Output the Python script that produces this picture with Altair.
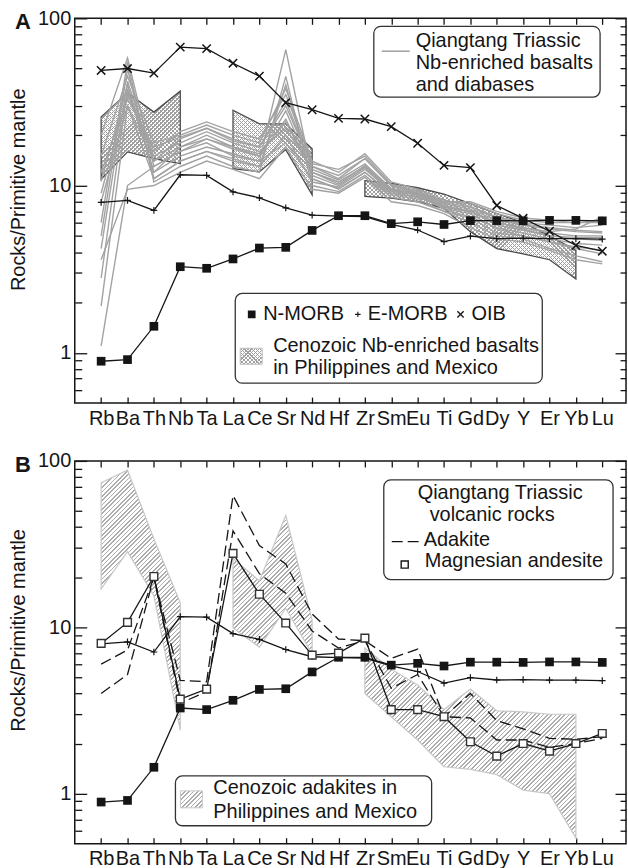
import math
import altair as alt
import pandas as pd

FONT = "Liberation Sans"

elements = ["Rb", "Ba", "Th", "Nb", "Ta", "La", "Ce", "Sr", "Nd", "Hf",
            "Zr", "Sm", "Eu", "Ti", "Gd", "Dy", "Y", "Er", "Yb", "Lu"]

# reference compositions (primitive-mantle normalised)
n_morb = [0.89, 0.91, 1.44, 3.27, 3.2, 3.64, 4.23, 4.27, 5.39, 6.6,
          6.6, 5.92, 6.07, 5.85, 6.17, 6.17, 6.15, 6.19, 6.19, 6.15]
e_morb = [7.94, 8.16, 7.1, 11.6, 11.5, 9.17, 8.45, 7.35, 6.65, 6.57,
          6.52, 5.86, 5.42, 4.62, 4.98, 4.82, 4.84, 4.81, 4.81, 4.78]
oib = [48.8, 50.1, 47.0, 67.3, 65.9, 53.9, 45.1, 31.3, 28.4, 25.2,
       25.0, 22.5, 17.9, 13.2, 12.8, 7.6, 6.37, 5.33, 4.38, 4.05]

# Qiangtang Triassic Nb-enriched basalts and diabases (panel A, grey lines)
qt_1 = [1.1, 10, 13, 16, 18, 15, 14, 18, 11, 9.5, 12, 9.0, 8.5, 7.5, 7.0, 6.0, 5.5, 5.0, 4.8, 4.7]
qt_2 = [1.9, 30, 11, 14, 16, 14, 13, 20, 10.5, 9.8, 12.5, 9.2, 8.8, 7.2, 6.5, 5.6, 5.2, 4.8, 4.5, 4.4]
qt_3 = [2.8, 38, 12, 17, 20, 17, 15, 25, 12, 10.5, 13, 9.5, 9.0, 7.8, 7.2, 6.2, 5.8, 5.5, 5.3, 5.2]
qt_4 = [4.2, 42, 14, 19, 22, 19, 17, 30, 13, 11, 14.5, 10, 9.2, 8.0, 7.8, 6.8, 6.2, 6.0, 6.0, 6.2]
qt_5 = [6.0, 55, 10.5, 13, 15, 13, 12, 45, 10, 9.2, 11.5, 8.5, 8.0, 7.0, 6.0, 5.0, 4.8, 4.2, 3.8, 3.5]
qt_6 = [9.0, 35, 15, 18, 21, 18, 16, 22, 12.5, 10.8, 13.5, 9.6, 9.0, 7.6, 7.0, 5.8, 5.4, 5.0, 4.9, 4.9]
qt_7 = [10.6, 40, 12, 15, 17, 15.5, 14, 65, 11.5, 10, 12.8, 9.0, 8.6, 7.3, 6.8, 5.5, 5.0, 4.6, 4.3, 4.1]
qt_8 = [15, 45, 18, 20, 23, 20, 18, 38, 14, 12, 15.5, 10.5, 9.5, 8.2, 7.5, 6.5, 6.0, 5.8, 5.6, 5.8]
qt_9 = [20, 58, 13, 16, 19, 16.5, 15, 28, 12, 10.2, 13.2, 9.4, 8.9, 7.5, 7.0, 6.0, 5.6, 5.3, 5.5, 6.5]
qt_10 = [25, 36, 16, 21, 24, 21, 19, 35, 13.5, 12.5, 15, 10.2, 9.3, 8.0, 8.0, 7.0, 6.4, 6.2, 6.0, 6.0]
qt_11 = [3.6, 9.5, 10, 12, 14, 12.5, 11, 17, 9.5, 9, 11.2, 8.0, 7.6, 6.8, 5.6, 4.8, 4.6, 4.1, 3.6, 3.4]
qt_12 = [8.0, 30, 14, 17, 19, 17, 15.5, 24, 12, 10.5, 13, 9.3, 8.8, 7.4, 7.0, 6.0, 5.6, 5.2, 5.0, 5.0]
qt_13 = [12, 33, 17, 19.5, 22, 18.5, 17, 32, 13, 11.5, 14.5, 10, 9.0, 7.9, 7.4, 6.4, 5.9, 5.6, 5.4, 5.3]
qt_14 = [5.0, 50, 11, 14, 16, 14.5, 13, 40, 11, 9.6, 12, 8.8, 8.3, 7.0, 6.4, 5.2, 5.0, 4.6, 4.2, 3.9]
qt_lines = [qt_1, qt_2, qt_3, qt_4, qt_5, qt_6, qt_7, qt_8, qt_9, qt_10, qt_11, qt_12, qt_13, qt_14]

# Cenozoic Nb-enriched basalts field (panel A), three segments
a1_el = ["Rb", "Ba", "Th", "Nb"]
a1_top = [25.7, 35.8, 27.5, 36.7]
a1_bot = [10.9, 15.9, 14.5, 13.5]
a2_el = ["La", "Ce", "Sr", "Nd"]
a2_top = [28.2, 23.4, 23.4, 16.6]
a2_bot = [12.6, 12.1, 16.4, 8.8]
a3_el = ["Zr", "Sm", "Eu", "Ti", "Gd", "Dy", "Y", "Er", "Yb"]
a3_top = [10.7, 10.3, 9.7, 8.9, 7.8, 6.8, 6.0, 5.0, 4.1]
a3_bot = [8.6, 8.4, 8.0, 7.3, 5.3, 4.2, 3.9, 3.6, 2.76]

# Cenozoic adakites field (panel B), three segments
b1_el = ["Rb", "Ba", "Th", "Nb"]
b1_top = [74, 88, 34, 14]
b1_bot = [17, 28.5, 15.5, 2.4]
b2_el = ["La", "Ce", "Sr", "Nd"]
b2_top = [26, 19, 47, 11]
b2_bot = [9.9, 7.6, 13, 6.9]
b3_el = ["Zr", "Sm", "Eu", "Ti", "Gd", "Dy", "Y", "Er", "Yb"]
b3_top = [7.5, 5.6, 4.5, 3.2, 4.25, 3.15, 3.1, 3.0, 3.0]
b3_bot = [4.0, 2.9, 2.1, 1.45, 1.4, 1.3, 1.05, 1.0, 0.54]

# Qiangtang Triassic volcanic rocks (panel B)
adakite_1 = [6.0, 7.3, 20, 4.8, 4.7, 62, 31, 24, 12, 8.5, 8.3, 6.5, 7.4, 2.9, 4.0, 2.75, 2.45, 2.15, 2.12, 2.2]
adakite_2 = [4.0, 5.2, 20, 3.5, 4.1, 38, 21, 16, 9.5, 7.5, 8.3, 4.3, 5.2, 2.9, 2.85, 2.1, 2.1, 1.9, 2.0, 2.15]
mg_andesite = [8.0, 10.7, 20.2, 3.7, 4.25, 27.8, 15.8, 10.6, 6.8, 7.0, 8.6, 3.2, 3.2, 2.9, 2.05, 1.68, 2.0, 1.8, 2.0, 2.3]

y_major = [1, 10, 100]
y_minor = [0.6, 0.7, 0.8, 0.9, 2, 3, 4, 5, 6, 7, 8, 9, 20, 30, 40, 50, 60, 70, 80, 90]

# ---------------------------------------------------------------- layout
XMIN, XMAX = -1, 19.9
YMIN, YMAX = 0.5, 100
W = 553
HA = 386
HB = 384
FS = 20
idx = {e: i for i, e in enumerate(elements)}

XS = alt.Scale(domain=[XMIN, XMAX], nice=False, zero=False)
YS = alt.Scale(type="log", domain=[YMIN, YMAX], nice=False)
ONE = pd.DataFrame({"z": [0]})
INK = "#151515"

label_expr = "[" + ",".join("'" + e + "'" for e in elements) + "][datum.value]"


def tick_axis(orient, values, size):
    return alt.Axis(orient=orient, values=values, labels=False, ticks=True,
                    tickSize=alt.ExprRef(expr=str(-size)), tickColor=INK,
                    tickWidth=1.3, domain=False, grid=False, title=None)


AX_XL = alt.Axis(orient="bottom", values=list(range(20)), labelExpr=label_expr,
                 ticks=False, domain=False, grid=False, labelFont=FONT,
                 labelFontSize=FS, labelColor=INK, labelPadding=5,
                 labelOverlap=False, labelFlush=False, title=None)
AX_YL = alt.Axis(orient="left", values=y_major, format="d", ticks=False,
                 domain=False, grid=False, labelFont=FONT, labelFontSize=FS,
                 labelColor=INK, labelPadding=4, labelOverlap=False,
                 labelFlush=False, title=None)
AX_XB = tick_axis("bottom", list(range(20)), 6)
AX_XT = tick_axis("top", list(range(20)), 6)
AX_YLM = tick_axis("left", y_major, 12)
AX_YLm = tick_axis("left", y_minor, 7)
AX_YRM = tick_axis("right", y_major, 11)
AX_YRm = tick_axis("right", y_minor, 6)


def px(i):
    return (i - XMIN) / (XMAX - XMIN) * W


def py(v, H):
    return H * (math.log10(YMAX) - math.log10(v)) / (math.log10(YMAX) - math.log10(YMIN))


def stripes(w, h, direction, color, bg, period=3.3, duty=0.4):
    s = (w * w + h * h) / (w + h)
    a, b = w / s, h / s
    n = max(3, int(round((w + h) / (period * math.sqrt(2)))))
    stops = []
    for k in range(n):
        t0, t1, t2 = k / n, (k + duty) / n, (k + 1) / n
        stops += [alt.GradientStop(offset=t0, color=color),
                  alt.GradientStop(offset=t1, color=color),
                  alt.GradientStop(offset=t1, color=bg),
                  alt.GradientStop(offset=t2, color=bg)]
    if direction == "/":
        return alt.LinearGradient(gradient="linear", stops=stops, x1=0, y1=0, x2=a, y2=b)
    return alt.LinearGradient(gradient="linear", stops=stops, x1=0, y1=1, x2=a, y2=1 - b)


def seg_df(els, top, bot):
    return pd.DataFrame({"i": [idx[e] for e in els], "top": top, "bot": bot})


def seg_box(els, top, bot, H):
    xs = [px(idx[e]) for e in els]
    return max(xs) - min(xs), py(min(bot), H) - py(max(top), H)


def area(els, top, bot, H, fill, stroke=None, sw=0, xax=None, yax=None):
    kw = dict(fill=fill, interpolate="linear", opacity=1)
    if stroke:
        kw.update(stroke=stroke, strokeWidth=sw)
    else:
        kw.update(strokeWidth=0)
    return alt.Chart(seg_df(els, top, bot)).mark_area(**kw).encode(
        x=alt.X("i:Q", scale=XS, axis=xax),
        y=alt.Y("top:Q", scale=YS, axis=yax),
        y2="bot:Q")


def series_df(vals, name="s"):
    return pd.DataFrame({"i": list(range(len(vals))), "v": vals, "s": name})


def line(vals, color=INK, width=1.3, dash=None, xax=None, yax=None):
    kw = dict(color=color, strokeWidth=width)
    if dash:
        kw["strokeDash"] = dash
    return alt.Chart(series_df(vals)).mark_line(**kw).encode(
        x=alt.X("i:Q", scale=XS, axis=xax),
        y=alt.Y("v:Q", scale=YS, axis=yax))


PLUS = "M-1,0L1,0M0,-1L0,1"
CROSS = "M-1,-1L1,1M-1,1L1,-1"


def pts(vals, shape, size, filled, fill=None, stroke=INK, sw=1.3):
    kw = dict(shape=shape, size=size, filled=filled, opacity=1, strokeWidth=sw)
    if filled:
        kw.update(color=stroke)
    else:
        kw.update(stroke=stroke)
        if fill:
            kw.update(fill=fill, fillOpacity=1)
    return alt.Chart(series_df(vals)).mark_point(**kw).encode(
        x=alt.X("i:Q", scale=XS, axis=None),
        y=alt.Y("v:Q", scale=YS, axis=None))


def txt(s, x, y, size=FS, align="left", weight="normal", angle=0):
    return alt.Chart(ONE).mark_text(text=s, align=align, baseline="middle", font=FONT,
                                    fontSize=size, fontWeight=weight, angle=angle,
                                    color=INK).encode(x=alt.value(x), y=alt.value(y))


def box(x0, x1, y0, y1):
    return alt.Chart(ONE).mark_rect(fill="white", stroke="#333", strokeWidth=1.3,
                                    cornerRadius=7).encode(
        x=alt.value(x0), x2=alt.value(x1), y=alt.value(y0), y2=alt.value(y1))


def swatch(x0, x1, y0, y1, fill, stroke=None):
    kw = dict(fill=fill)
    if stroke:
        kw.update(stroke=stroke, strokeWidth=1)
    return alt.Chart(ONE).mark_rect(**kw).encode(
        x=alt.value(x0), x2=alt.value(x1), y=alt.value(y0), y2=alt.value(y1))


def sym(x, y, shape, size, filled, fill=None, sw=1.3):
    kw = dict(shape=shape, size=size, filled=filled, opacity=1, strokeWidth=sw)
    if filled:
        kw.update(color=INK)
    else:
        kw.update(stroke=INK)
        if fill:
            kw.update(fill=fill, fillOpacity=1)
    return alt.Chart(ONE).mark_point(**kw).encode(x=alt.value(x), y=alt.value(y))


def rule(x0, x1, y, color=INK, width=1.3, dash=None):
    kw = dict(color=color, strokeWidth=width)
    if dash:
        kw["strokeDash"] = dash
    return alt.Chart(ONE).mark_rule(**kw).encode(x=alt.value(x0), x2=alt.value(x1), y=alt.value(y))


GREY = "#a2a2a2"
CHK = "#a0a0a0"
HATCH = "#adadad"

# ---------------------------------------------------------------- panel A
layers_a = []
first = True
for els, top, bot in [(a1_el, a1_top, a1_bot), (a2_el, a2_top, a2_bot), (a3_el, a3_top, a3_bot)]:
    w, h = seg_box(els, top, bot, HA)
    layers_a.append(area(els, top, bot, HA, stripes(w, h, "/", CHK, "white", 2.8, 0.3),
                         xax=AX_XL if first else None, yax=AX_YL if first else None))
    layers_a.append(area(els, top, bot, HA, stripes(w, h, "\\", CHK, "rgba(255,255,255,0)", 2.8, 0.3),
                         stroke="#4a4a4a", sw=1.3))
    first = False

qt_df = pd.concat([series_df(v, "q%d" % k) for k, v in enumerate(qt_lines)])
layers_a.append(alt.Chart(qt_df).mark_line(color=GREY, strokeWidth=1.4).encode(
    x=alt.X("i:Q", scale=XS, axis=AX_XB),
    y=alt.Y("v:Q", scale=YS, axis=AX_YLM),
    detail="s:N"))
layers_a.append(line(n_morb, xax=AX_XT, yax=AX_YLm))
layers_a.append(line(e_morb, yax=AX_YRM))
layers_a.append(line(oib, yax=AX_YRm))
layers_a.append(pts(n_morb, "square", 76, True))
layers_a.append(pts(e_morb, PLUS, 45, False, sw=1.2))
layers_a.append(pts(oib, CROSS, 70, False, sw=1.5))

# legends panel A
layers_a += [
    box(300, 527, 8, 79),
    rule(308, 336, 33, color=GREY, width=1.6),
    txt("Qiangtang Triassic", 342, 23),
    txt("Nb-enriched basalts", 342, 45),
    txt("and diabases", 342, 67),
    box(161, 469, 276, 366),
    sym(177.5, 297, "square", 60, True),
    txt("N-MORB", 189, 297),
    sym(284, 297, PLUS, 30, False, sw=1.1),
    txt("E-MORB", 294, 297),
    sym(387, 297, CROSS, 40, False, sw=1.3),
    txt("OIB", 398, 297),
    swatch(166, 188, 331, 347, stripes(22, 16, "/", CHK, "white", 2.8, 0.3)),
    swatch(166, 188, 331, 347, stripes(22, 16, "\\", CHK, "rgba(255,255,255,0)", 2.8, 0.3), stroke="#bbbbbb"),
    txt("Cenozoic Nb-enriched basalts", 199, 329),
    txt("in Philippines and Mexico", 199, 351),
    txt("A", -52, 4, size=22, align="center", weight="bold"),
    txt("Rocks/Primitive mantle", -56, 172, align="center", angle=270),
]

panel_a = alt.layer(*layers_a).resolve_axis(x="independent", y="independent").properties(width=W, height=HA)

# ---------------------------------------------------------------- panel B
layers_b = []
first = True
for els, top, bot in [(b1_el, b1_top, b1_bot), (b2_el, b2_top, b2_bot), (b3_el, b3_top, b3_bot)]:
    w, h = seg_box(els, top, bot, HB)
    layers_b.append(area(els, top, bot, HB, stripes(w, h, "/", HATCH, "white", 3.1, 0.38),
                         stroke="#c8c8c8", sw=1.2,
                         xax=AX_XL if first else None, yax=AX_YL if first else None))
    first = False

layers_b.append(line(n_morb, xax=AX_XB, yax=AX_YLM))
layers_b.append(line(e_morb, xax=AX_XT, yax=AX_YLm))
layers_b.append(line(adakite_1, dash=[11, 5], yax=AX_YRM))
layers_b.append(line(adakite_2, dash=[11, 5], yax=AX_YRm))
layers_b.append(line(mg_andesite))
layers_b.append(pts(n_morb, "square", 76, True))
layers_b.append(pts(e_morb, PLUS, 45, False, sw=1.2))
layers_b.append(pts(mg_andesite, "square", 60, False, fill="white", stroke="#333", sw=1.4))

layers_b += [
    box(310, 540, 19, 119),
    txt("Qiangtang Triassic", 344, 32),
    txt("volcanic rocks", 356, 54),
    rule(318, 346, 81, dash=[11, 5]),
    txt("Adakite", 350, 79),
    sym(331, 104, "square", 50, False, fill="white", sw=1.4),
    txt("Magnesian andesite", 351, 100),
    box(101, 358, 316, 366),
    swatch(106, 128, 331, 348, stripes(22, 17, "/", HATCH, "white", 3.1, 0.38), stroke="#c8c8c8"),
    txt("Cenozoic adakites in", 139, 328),
    txt("Philippines and Mexico", 139, 352),
    txt("B", -52, 4, size=22, align="center", weight="bold"),
    txt("Rocks/Primitive mantle", -56, 170, align="center", angle=270),
]

panel_b = alt.layer(*layers_b).resolve_axis(x="independent", y="independent").properties(width=W, height=HB)

chart = alt.vconcat(panel_a, panel_b, spacing=21).properties(
    padding={"left": 8, "top": 6, "right": 0, "bottom": 0},
    background="white",
).configure_view(stroke=INK, strokeWidth=1.5)

chart.save("out.html", embed_options={"renderer": "svg", "actions": False})
